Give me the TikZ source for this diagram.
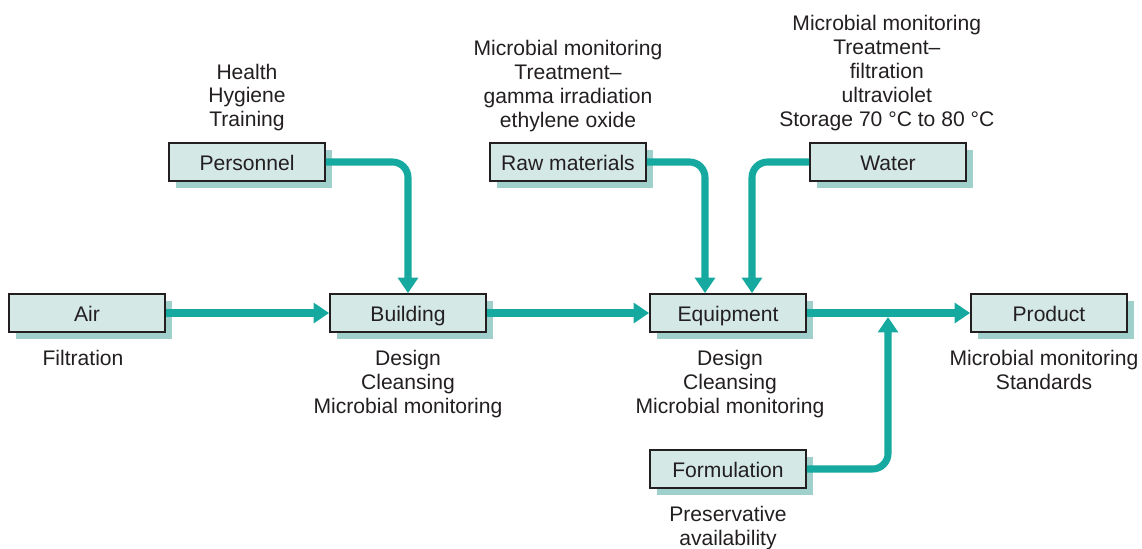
\documentclass[tikz,border=0pt]{standalone}
\usepackage{fontspec}
\setmainfont{Liberation Sans}
\usetikzlibrary{positioning,calc,shadows,arrows.meta}
\definecolor{ink}{HTML}{231F20}
\definecolor{boxfill}{HTML}{D4E8E6}
\definecolor{boxshade}{HTML}{9FD0CC}
\definecolor{flowc}{HTML}{16A99F}

\begin{document}
\begin{tikzpicture}[x=0.025cm,y=-0.025cm,
  box/.style={draw=ink,line width=1.2pt,fill=boxfill,text=ink,minimum width=3.9cm,minimum height=0.95cm,inner sep=0pt,
    text height=12pt,text depth=0pt,
    font=\fontsize{15}{17}\selectfont,drop shadow={shadow xshift=5pt,shadow yshift=-5pt,fill=boxshade,opacity=1}},
  note/.style={align=center,inner sep=0pt,text=ink,font=\fontsize{15}{17}\selectfont},
  flow/.style={draw=flowc,line width=5pt,rounded corners=11pt,-{Triangle[length=11pt,width=14pt]}}]
\useasboundingbox (0,0) rectangle (1142,548);
% boxes
\node[box] (pers) at (247,162) {Personnel};
\node[box] (raw) at (568,162) {Raw materials};
\node[box] (water) at (888,162) {Water};
\node[box] (air) at (87,313) {Air};
\node[box] (bldg) at (408,313) {Building};
\node[box] (eqp) at (728,313) {Equipment};
\node[box] (prod) at (1049,313) {Product};
\node[box] (form) at (728,469) {Formulation};
\coordinate (mix) at (888,317);
% notes
\node[note,above=0.265cm of pers] (persnote) {Health\\Hygiene\\Training};
\node[note,above=0.26cm of raw] (rawnote) {Microbial monitoring\\Treatment\textendash\\gamma irradiation\\ethylene oxide};
\node[note,above=0.28cm of water,xshift=-0.03cm] (waternote) {Microbial monitoring\\Treatment\textendash\\filtration\\ultraviolet\\Storage 70 °C to 80 °C};
\node[note,below=0.42cm of air,xshift=-0.1cm] (airnote) {Filtration};
\node[note,below=0.42cm of bldg] (bldgnote) {Design\\Cleansing\\Microbial monitoring};
\node[note,below=0.42cm of eqp,xshift=0.05cm] (eqpnote) {Design\\Cleansing\\Microbial monitoring};
\node[note,below=0.42cm of prod,xshift=-0.125cm] (prodnote) {Microbial monitoring\\Standards};
\node[note,below=0.43cm of form] (formnote) {Preservative\\availability};
% flows
\draw[flow] (air) -- (bldg);
\draw[flow] (bldg) -- (eqp);
\draw[flow] (eqp) -- (prod);
\draw[flow] (pers.east) -| (bldg.north);
\draw[flow] (raw.east) -| ($(eqp.north)+(-23,0)$);
\draw[flow] (water.west) -| ($(eqp.north)+(24,0)$);
\draw[flow] (form.east) -| (mix);
\end{tikzpicture}
\end{document}
